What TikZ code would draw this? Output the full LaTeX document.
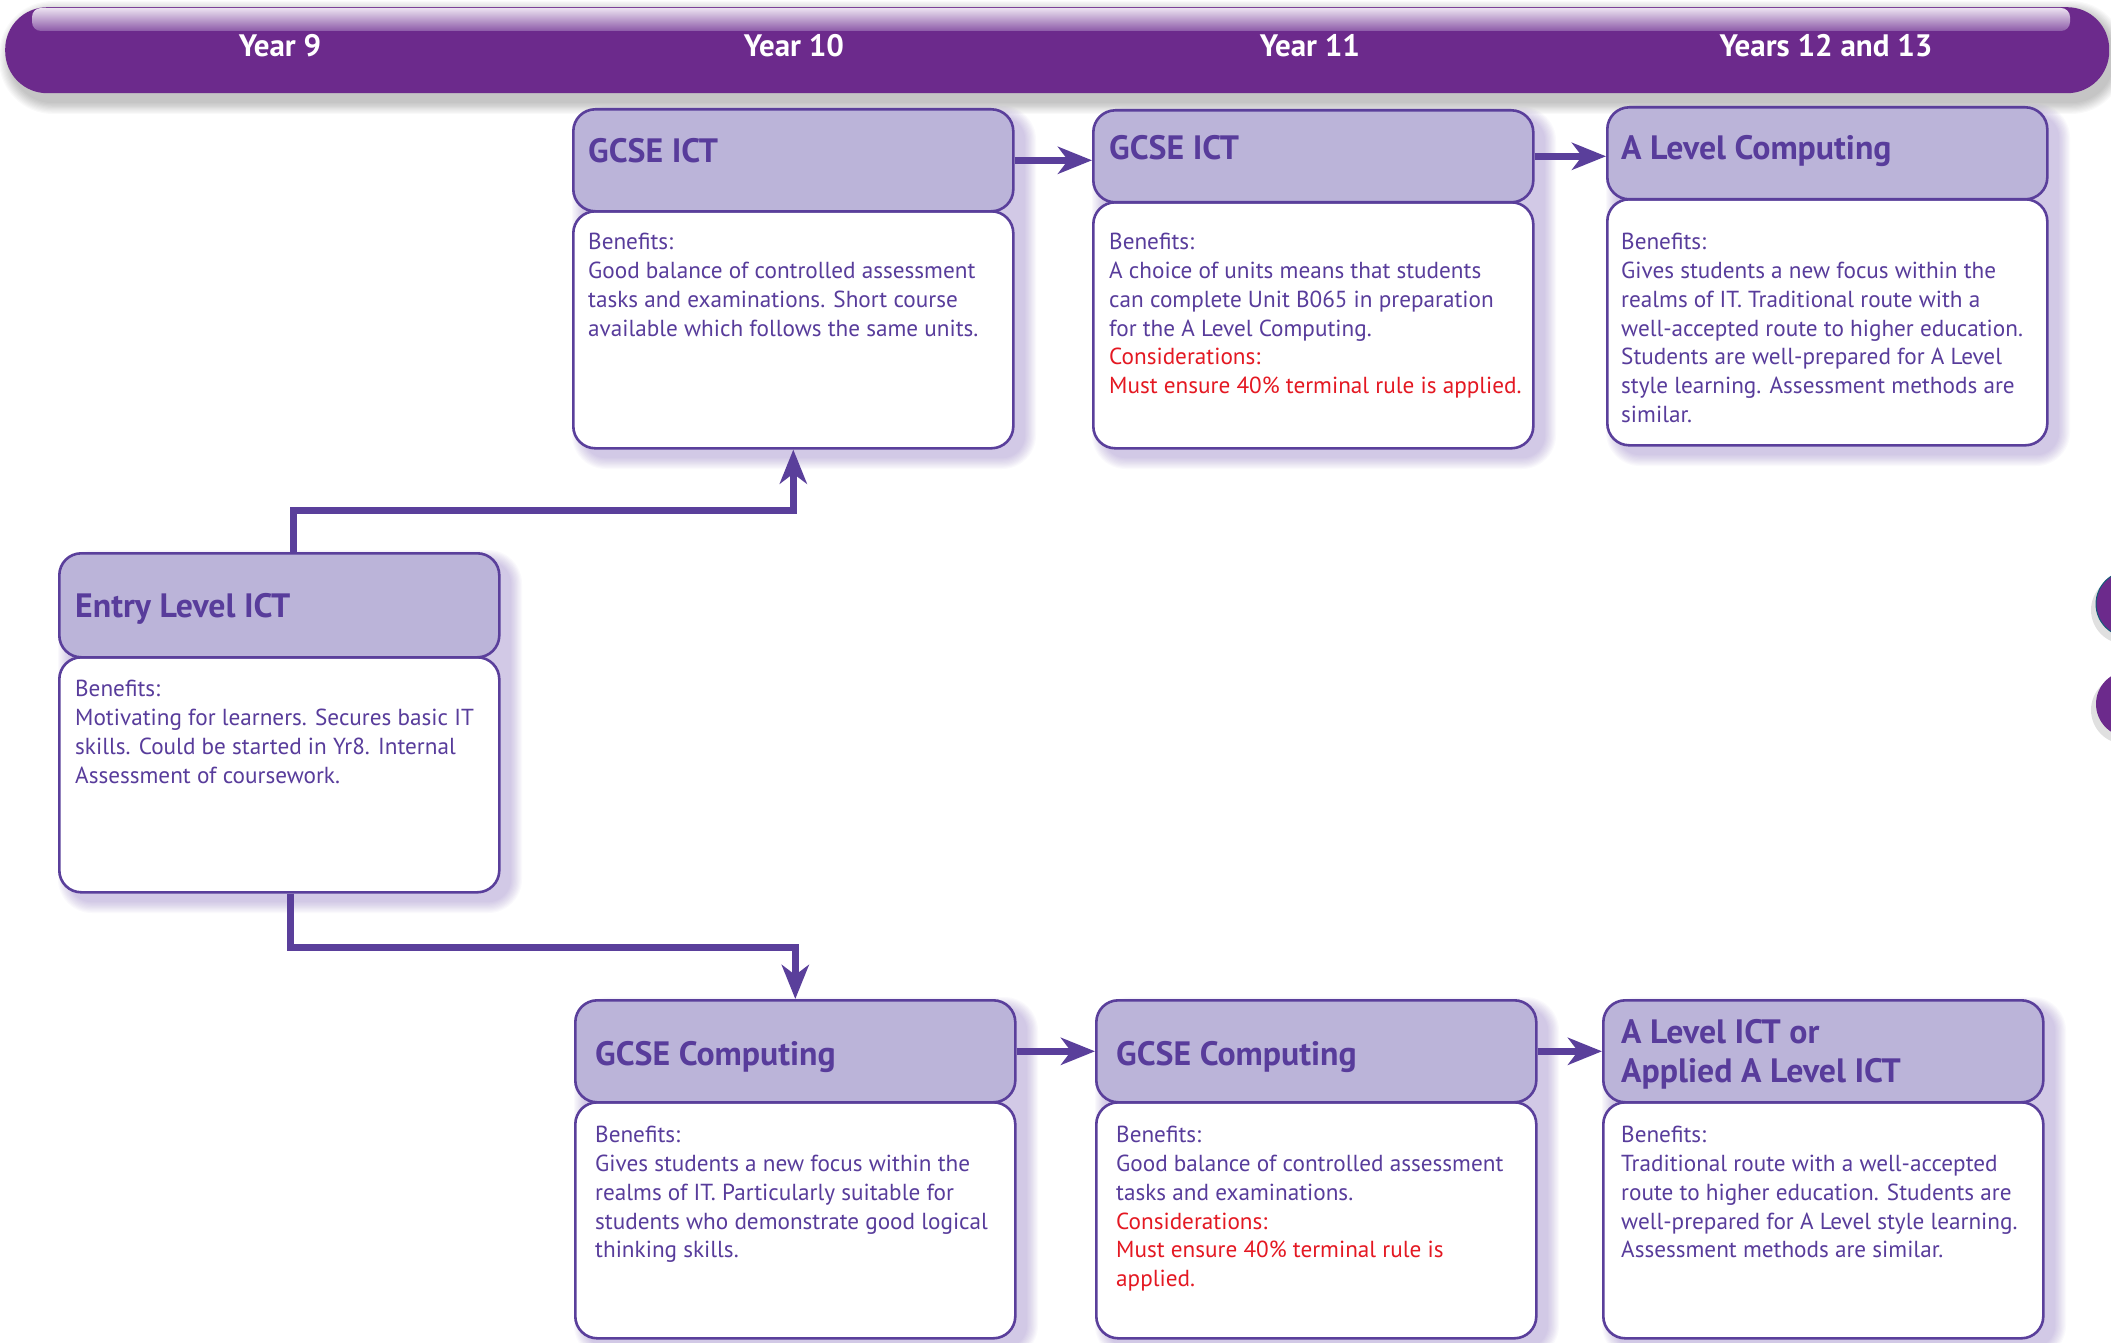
\documentclass[tikz,border=0pt]{standalone}
\usepackage{fontspec}
\setmainfont{PT Sans}
\usetikzlibrary{arrows.meta}
\definecolor{barpurple}{RGB}{108,42,140}
\definecolor{hdrfill}{RGB}{187,180,217}
\definecolor{edgec}{RGB}{90,63,155}
\definecolor{txtc}{RGB}{88,60,155}
\definecolor{redc}{RGB}{228,24,34}
\definecolor{shadowc}{RGB}{120,90,185}
\newcommand\softshade[6]{%
  \foreach \e in {1,...,10}{%
    \pgfmathsetmacro\rr{22+\e*1.2}%
    \fill[#5, opacity=#6] ({#1+12-\e*1.2},{#2+10-\e*1.2}) [rounded corners=\rr pt] rectangle ({#3+12+\e*1.2},{#4+10+\e*1.2});
  }}
\newcommand\pathbox[6]{%
  \softshade{#2}{#3}{#2+#4}{#6}{shadowc}{0.035}
  \node[bodybox, minimum width=#4, minimum height={#6-#5}, anchor=north west] (#1b) at (#2,#5) {};
  \node[headbox, minimum width=#4, minimum height={#5-#3}, anchor=north west] (#1h) at (#2,#3) {};
}
\begin{document}
\begin{tikzpicture}[x=1pt,y=-1pt,
  headbox/.style={draw=edgec, line width=2.6pt, fill=hdrfill, rounded corners=22pt, inner sep=0pt},
  bodybox/.style={draw=edgec, line width=2.6pt, fill=white, rounded corners=22pt, inner sep=0pt},
  yearlbl/.style={text=white, font=\fontsize{31}{36}\selectfont\bfseries, anchor=base, inner sep=0pt},
  ttl/.style={text=txtc, font=\fontsize{33.8}{39}\selectfont\bfseries, anchor=base west, inner sep=0pt, align=left},
  bodytxt/.style={text=txtc, font=\fontsize{23.2}{28.8}\selectfont, anchor=north west, inner sep=0pt, align=left},
  arr/.style={draw=edgec, line width=7pt, -{Stealth[length=34pt, width=27pt, inset=10pt]}}
]
\useasboundingbox (0,0) rectangle (2111,1343);
\clip (0,0) rectangle (2111,1343);
\fill[white] (0,0) rectangle (2111,1343);

% header bar
\foreach \e in {1,...,10}{%
  \pgfmathsetmacro\rr{42+\e*1.2}%
  \fill[black, opacity=0.025] ({5+6-\e*1.2},{7+6-\e*1.2}) [rounded corners=\rr pt] rectangle ({2109+4+\e*1.2},{93+9+\e*1.2});
}
\node[fill=barpurple, rounded corners=42pt, minimum width=2104, minimum height=86, anchor=north west, inner sep=0pt] (bar) at (5,7) {};
\shade[top color={rgb,255:red,235;green,225;blue,240}, bottom color={rgb,255:red,140;green,90;blue,168}, rounded corners=9pt] (32,8) rectangle (2070,31);
\node[yearlbl] (y9) at (280,57) {Year 9};
\node[yearlbl] (y10) at (794,57) {Year 10};
\node[yearlbl] (y11) at (1310,57) {Year 11};
\node[yearlbl] (y12) at (1826,57) {Years 12 and 13};

% side circles
\fill[black, opacity=0.12] (2125,610) circle[radius=34pt];
\fill[black, opacity=0.12] (2125,710) circle[radius=34pt];
\filldraw[fill=barpurple, draw={rgb,255:red,20;green,90;blue,120}, line width=1pt] (2129,604) circle[radius=33pt];
\fill[barpurple] (2129,704) circle[radius=33pt];

% boxes
\pathbox{ictA}{572}{108}{440}{210}{447}
\pathbox{ictB}{1092}{109}{440}{201}{447}
\pathbox{alc}{1606}{106}{440}{198}{444}
\pathbox{ent}{58}{552}{440}{656}{891}
\pathbox{compA}{574}{999}{440}{1101}{1337}
\pathbox{compB}{1095}{999}{440}{1101}{1337}
\pathbox{ali}{1602}{999}{440}{1101}{1337}

% titles
\node[ttl] (tictA) at (588,163) {GCSE ICT};
\node[ttl] (tictB) at (1109,160) {GCSE ICT};
\node[ttl] (talc) at (1621,160) {A Level Computing};
\node[ttl] (tent) at (75,617) {Entry Level ICT};
\node[ttl] (tcompA) at (595,1065) {GCSE Computing};
\node[ttl] (tcompB) at (1116,1065) {GCSE Computing};
\node[ttl, anchor=west] (tali) at (1621,1054) {A Level ICT or\\Applied A Level ICT};

% body texts
\node[bodytxt] (bictA) at (588,233) {Benefits:\\Good balance of controlled assessment\\tasks and examinations. Short course\\available which follows the same units.};
\node[bodytxt] (bictB) at (1109,233) {Benefits:\\A choice of units means that students\\can complete Unit B065 in preparation\\for the A Level Computing.\\\textcolor{redc}{Considerations:}\\\textcolor{redc}{Must ensure 40\% terminal rule is applied.}};
\node[bodytxt] (balc) at (1621,233) {Benefits:\\Gives students a new focus within the\\realms of IT. Traditional route with a\\well-accepted route to higher education.\\Students are well-prepared for A Level\\style learning. Assessment methods are\\similar.};
\node[bodytxt] (bent) at (75,680) {Benefits:\\Motivating for learners. Secures basic IT\\skills. Could be started in Yr8. Internal\\Assessment of coursework.};
\node[bodytxt] (bcompA) at (595,1126) {Benefits:\\Gives students a new focus within the\\realms of IT. Particularly suitable for\\students who demonstrate good logical\\thinking skills.};
\node[bodytxt] (bcompB) at (1116,1126) {Benefits:\\Good balance of controlled assessment\\tasks and examinations.\\\textcolor{redc}{Considerations:}\\\textcolor{redc}{Must ensure 40\% terminal rule is}\\\textcolor{redc}{applied.}};
\node[bodytxt] (bali) at (1621,1126) {Benefits:\\Traditional route with a well-accepted\\route to higher education. Students are\\well-prepared for A Level style learning.\\Assessment methods are similar.};

% connectors
\draw[arr] ([xshift=14pt]enth.north) -- ++(0,-42) -| (ictAb.south);
\draw[arr] ([xshift=11pt]entb.south) -- ++(0,54) -| (compAh.north);
\draw[arr] (ictAh.east) -- (ictAh.east -| ictBh.west);
\draw[arr] (ictBh.east) -- (ictBh.east -| alch.west);
\draw[arr] (compAh.east) -- (compAh.east -| compBh.west);
\draw[arr] (compBh.east) -- (compBh.east -| alih.west);
\end{tikzpicture}
\end{document}
